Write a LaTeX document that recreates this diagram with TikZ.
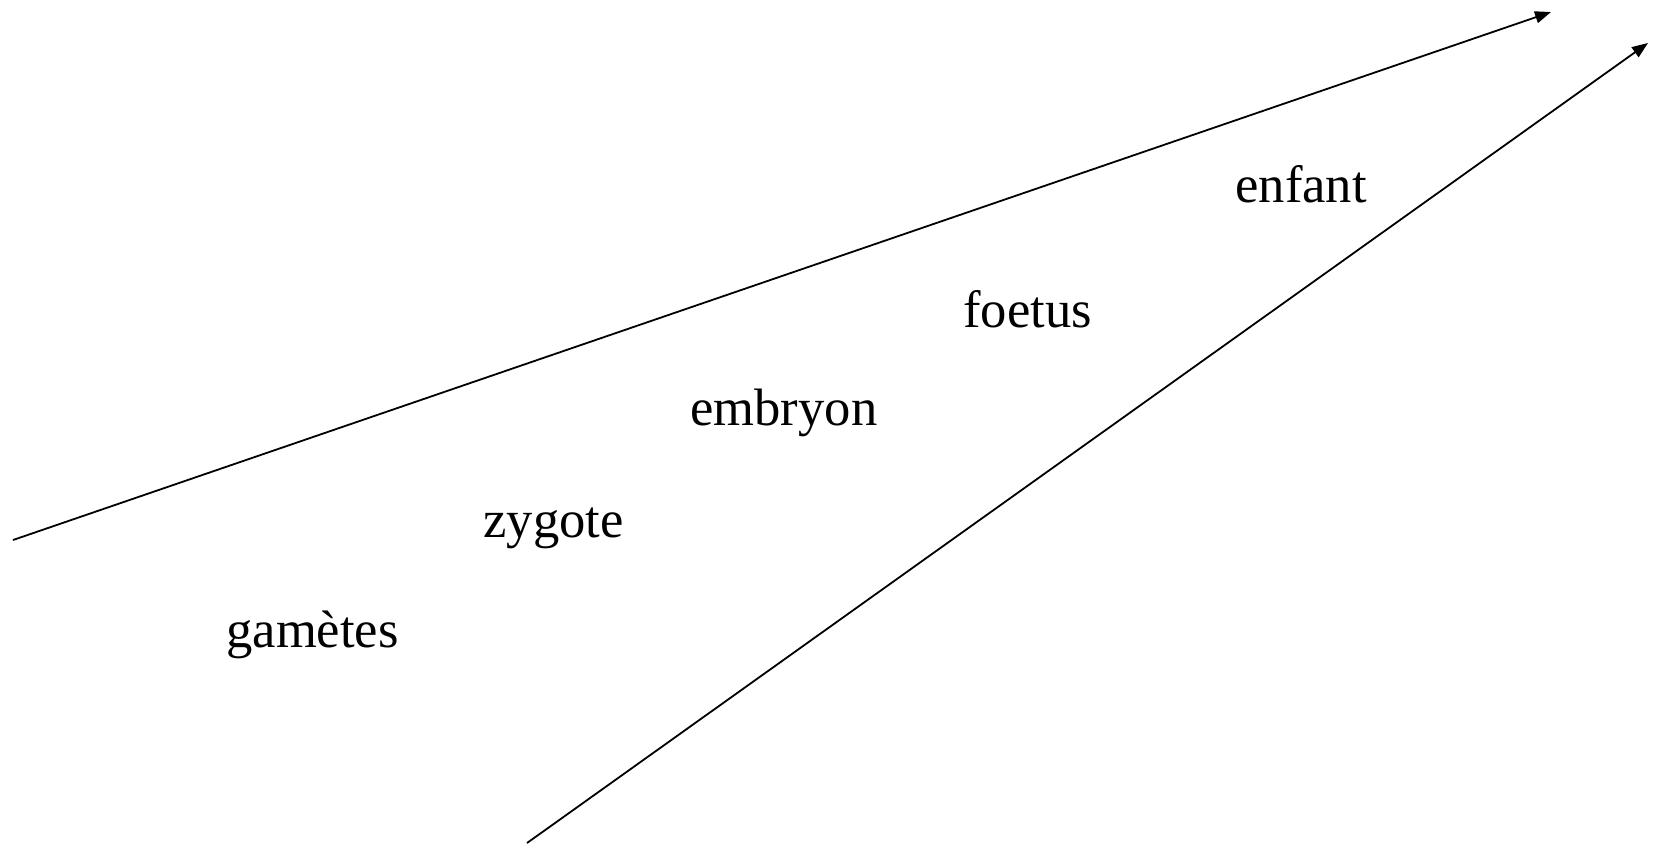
\documentclass[tikz,border=0pt]{standalone}
\usepackage{fontspec}
\setmainfont{Liberation Serif}
\usetikzlibrary{arrows.meta}

\begin{document}
\begin{tikzpicture}[x=0.5pt, y=-0.5pt,
		stage/.style={anchor=base west, inner sep=0pt, font=\fontsize{26.3}{30}\selectfont},
		bound/.style={line width=0.9pt, -{Triangle[length=8pt, width=6pt]}}]
		%%%%% START %%%%%
		
		\useasboundingbox (0, 0) rectangle (1654, 843);
		
		\coordinate (upstart) at (13, 540);
		\coordinate (upend) at (1551, 12);
		\coordinate (lowstart) at (527, 843);
		\coordinate (lowend) at (1648, 43);
		
		\draw[bound] (upstart) -- (upend);
		\draw[bound] (lowstart) -- (lowend);
		
		\node[stage] (gametes) at (226, 647) {gamètes};
		\node[stage] (zygote) at (483, 537) {zygote};
		\node[stage] (embryon) at (690, 425) {embryon};
		\node[stage] (foetus) at (963, 327) {foetus};
		\node[stage] (enfant) at (1235, 202) {enfant};
		
		%%%%% END %%%%%
	\end{tikzpicture}
\end{document}
